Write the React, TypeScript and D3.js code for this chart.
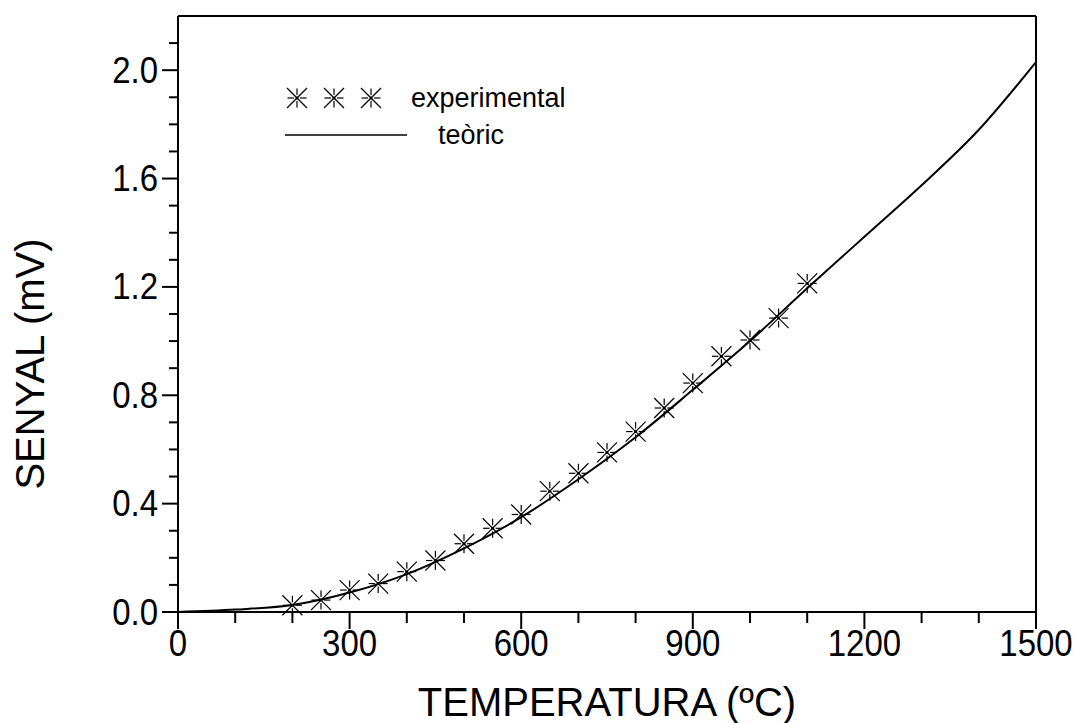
import React from "react";
import * as d3 from "d3";

const expTemps = [200, 250, 300, 350, 400, 450, 500, 550, 600, 650, 700, 750, 800, 850, 900, 950, 1000, 1050, 1100];
const expSenyal = [0.025, 0.044, 0.081, 0.105, 0.149, 0.19, 0.252, 0.309, 0.36, 0.446, 0.512, 0.589, 0.666, 0.753, 0.845, 0.944, 1.004, 1.085, 1.213];

const teoTemps = [0, 100, 200, 300, 400, 500, 600, 700, 800, 900, 1000, 1100, 1200, 1300, 1400, 1500];
const teoSenyal = [0, 0.009, 0.026, 0.072, 0.14, 0.235, 0.35, 0.49, 0.645, 0.82, 1.0, 1.195, 1.385, 1.575, 1.78, 2.03];

const xMajorTicks = [0, 300, 600, 900, 1200, 1500];
const xMinorTicks = d3.range(0, 1501, 100);
const yMajorTicks = [0, 0.4, 0.8, 1.2, 1.6, 2.0];
const yMinorTicks = d3.range(0, 22).map((i) => i / 10);

const xTitle = "TEMPERATURA (ºC)";
const yTitle = "SENYAL (mV)";
const legendLabels = ["experimental", "teòric"];

const W = 1075;
const H = 723;
const L = 178, R = 1036, T = 16, B = 612;
const FONT = "'Liberation Sans', Arial, Helvetica, sans-serif";

function Asterisk({ x, y }: { x: number; y: number }) {
  const d = 10;
  const p = 9.5;
  const g = 3;
  return (
    <g stroke="#000" strokeWidth={1.2} fill="none">
      <line x1={x - d} y1={y - d} x2={x + d} y2={y + d} />
      <line x1={x - d} y1={y + d} x2={x + d} y2={y - d} />
      <line x1={x - p} y1={y} x2={x - g} y2={y} />
      <line x1={x + g} y1={y} x2={x + p} y2={y} />
      <line x1={x} y1={y - p} x2={x} y2={y - g} />
      <line x1={x} y1={y + g} x2={x} y2={y + p} />
      <circle cx={x} cy={y} r={1.5} fill="#000" stroke="none" />
    </g>
  );
}

export default function App() {
  const x = d3.scaleLinear().domain([0, 1500]).range([L, R]);
  const y = d3.scaleLinear().domain([0, 2.2]).range([B, T]);
  const line = d3
    .line<number>()
    .x((_, i) => x(teoTemps[i]))
    .y((v) => y(v))
    .curve(d3.curveMonotoneX);

  const sy = 1.1;

  return (
    <svg width={W} height={H} style={{ position: "absolute", left: 0, top: 0, background: "#fff" }} fontFamily={FONT}>
      <rect width={W} height={H} fill="#fff" />
      {/* frame */}
      <g stroke="#000" strokeWidth={2} fill="none">
        <line x1={L} y1={T} x2={R} y2={T} />
        <line x1={R} y1={T} x2={R} y2={B} />
        <line x1={L} y1={T} x2={L} y2={B} />
        <line x1={L} y1={B} x2={R} y2={B} />
      </g>
      {/* ticks */}
      <g stroke="#000" strokeWidth={2}>
        {yMinorTicks.map((v) => {
          const major = yMajorTicks.some((m) => Math.abs(m - v) < 1e-9);
          return <line key={"ym" + v} x1={L - (major ? 16 : 9)} x2={L} y1={y(v)} y2={y(v)} />;
        })}
        {xMinorTicks.map((v) => {
          const major = xMajorTicks.includes(v);
          return <line key={"xm" + v} x1={x(v)} x2={x(v)} y1={B} y2={B + (major ? 17 : 11)} />;
        })}
      </g>
      {/* tick labels */}
      <g fontSize={33} fill="#000">
        {yMajorTicks.map((v) => (
          <text
            key={"yl" + v}
            transform={`translate(${L - 20}, ${y(v) + 12.5}) scale(1, ${sy})`}
            textAnchor="end"
          >
            {d3.format(".1f")(v)}
          </text>
        ))}
        {xMajorTicks.map((v) => (
          <text key={"xl" + v} transform={`translate(${x(v)}, 656) scale(1, ${sy})`} textAnchor="middle">
            {v}
          </text>
        ))}
      </g>
      {/* titles */}
      <text x={(L + R) / 2} y={716} textAnchor="middle" fontSize={40} fill="#000">
        {xTitle}
      </text>
      <text transform={`translate(44, ${(T + B) / 2 + 50}) rotate(-90)`} textAnchor="middle" fontSize={40} fill="#000">
        {yTitle}
      </text>
      {/* theoretical curve */}
      <path d={line(teoSenyal) || ""} fill="none" stroke="#000" strokeWidth={2} />
      {/* experimental points */}
      {expTemps.map((t, i) => (
        <Asterisk key={"p" + t} x={x(t)} y={y(expSenyal[i])} />
      ))}
      {/* legend */}
      <Asterisk x={297} y={98} />
      <Asterisk x={334} y={98} />
      <Asterisk x={371} y={98} />
      <text x={411} y={107} fontSize={27} fill="#000">{legendLabels[0]}</text>
      <line x1={285} x2={407} y1={135} y2={135} stroke="#000" strokeWidth={1.6} />
      <text x={438} y={144} fontSize={27} fill="#000">{legendLabels[1]}</text>
    </svg>
  );
}
